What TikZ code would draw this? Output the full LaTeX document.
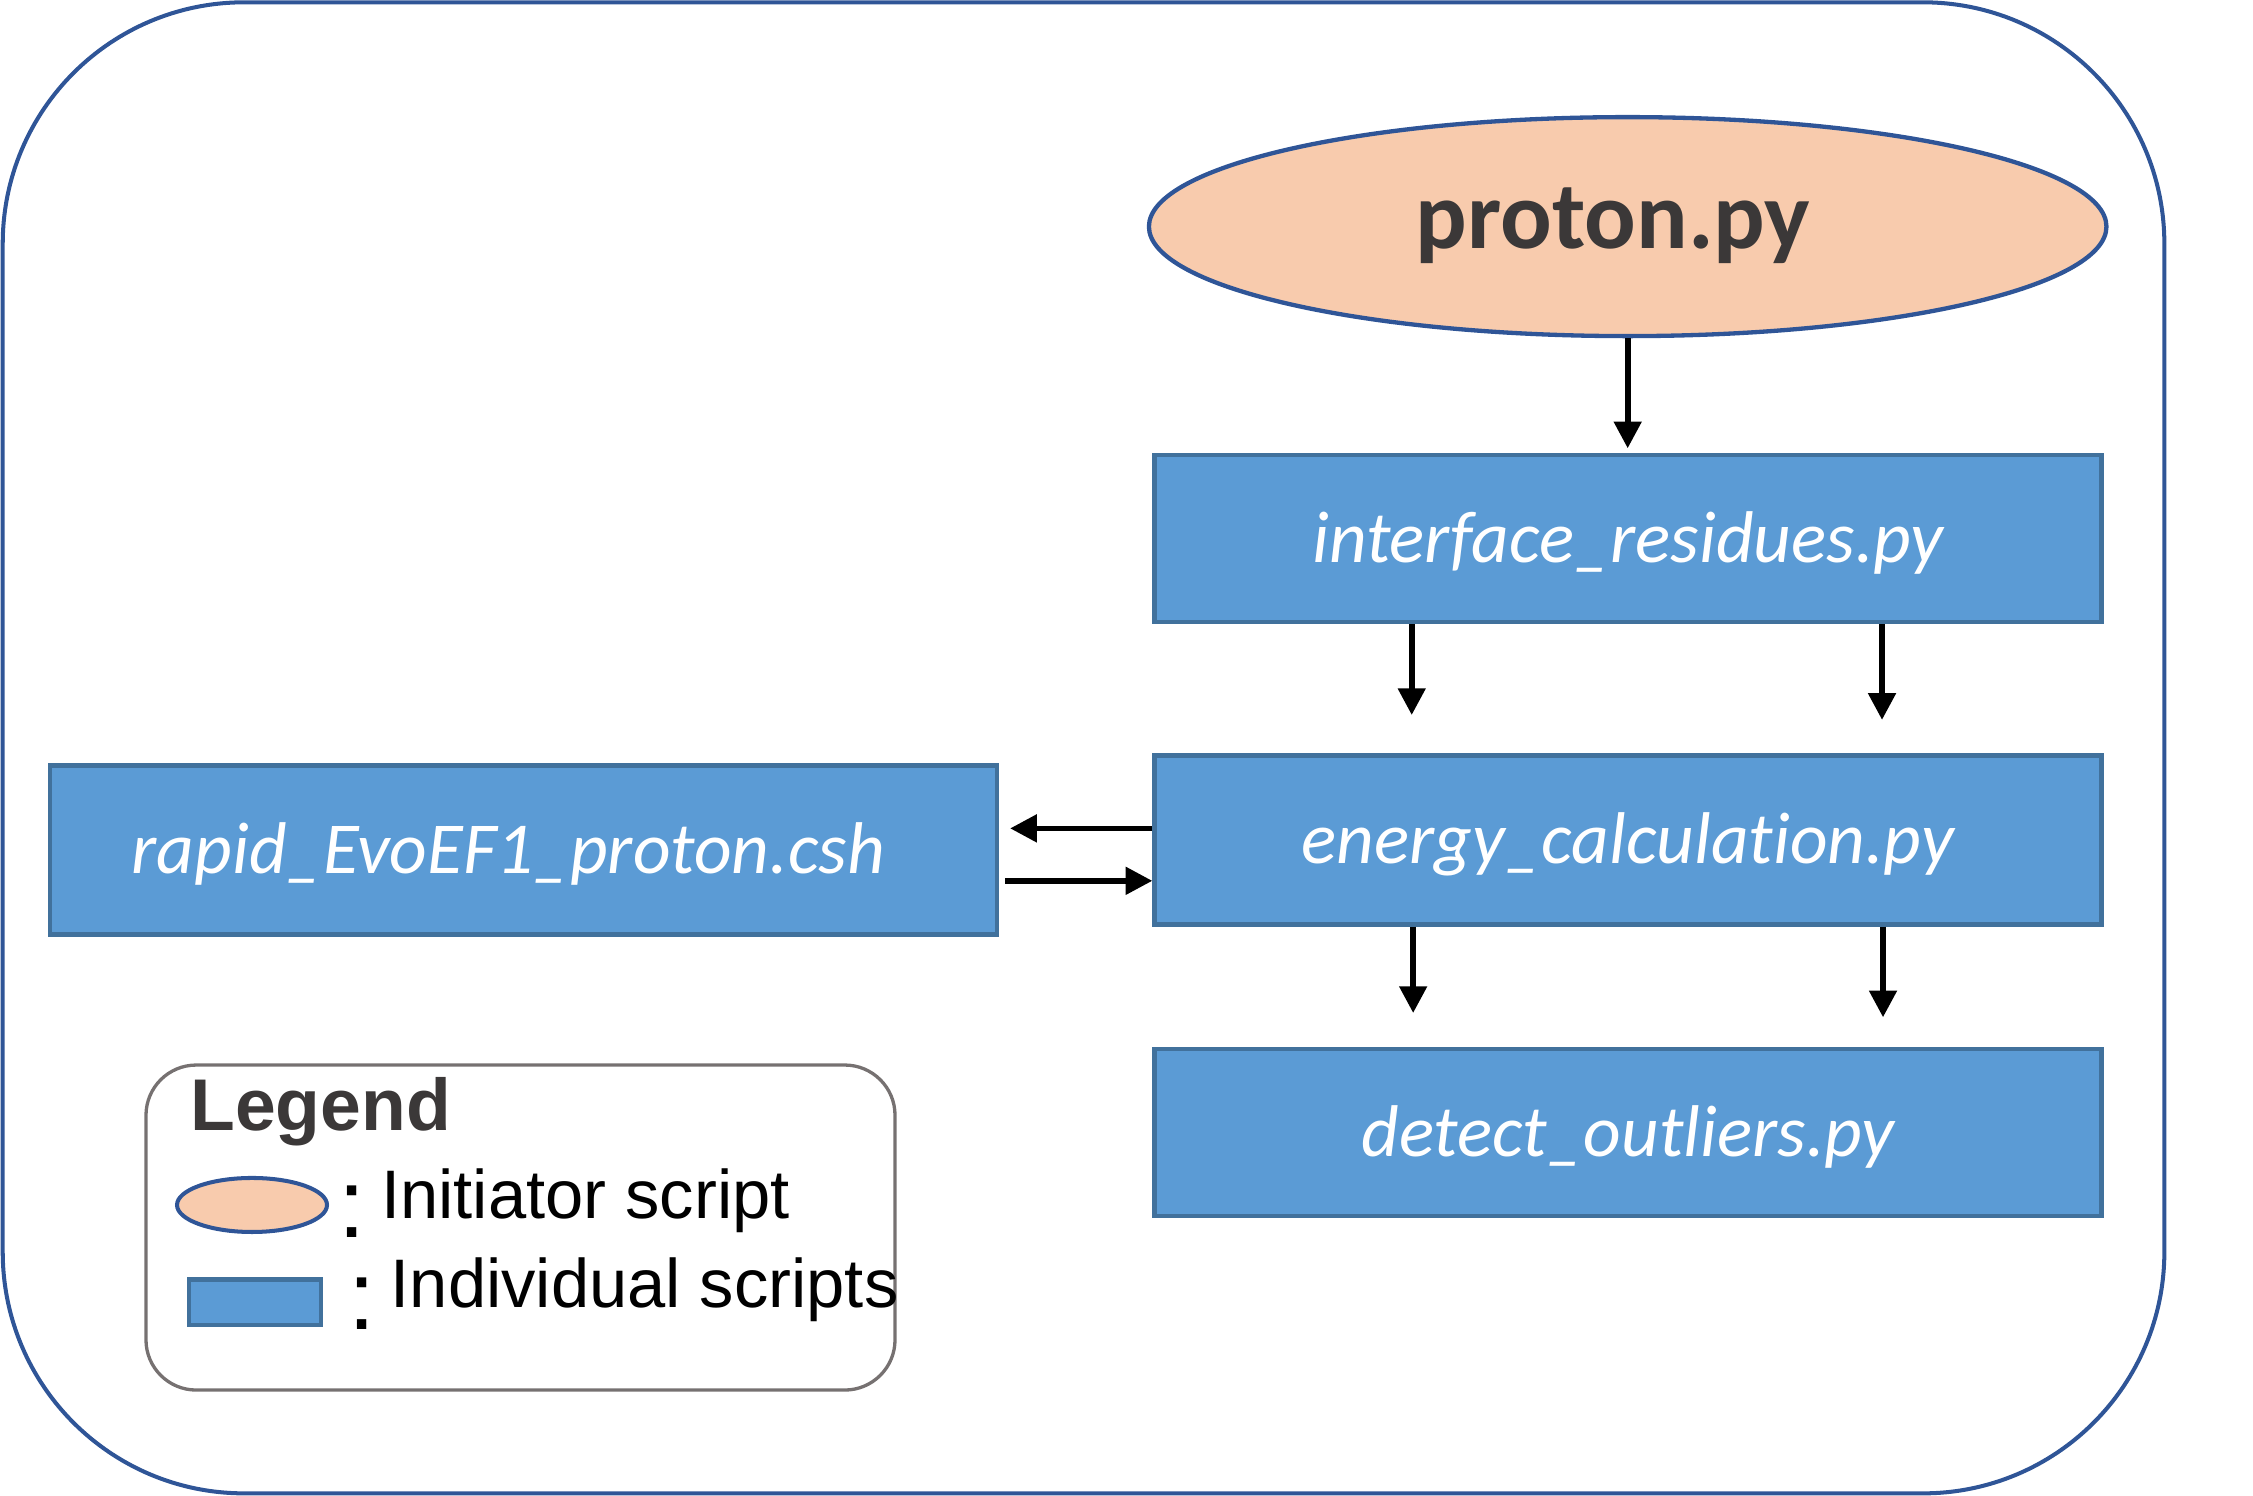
\documentclass[tikz,border=0pt]{standalone}
\usepackage{fontspec}
\setmainfont[Ligatures=NoCommon]{Carlito}
\newfontfamily\arialfont{Liberation Sans}
\usetikzlibrary{arrows.meta,shapes.geometric}
\definecolor{boxfill}{HTML}{5B9BD5}
\definecolor{boxline}{HTML}{41719C}
\definecolor{framebl}{HTML}{2F5597}
\definecolor{peach}{HTML}{F8CBAD}
\definecolor{txtgray}{HTML}{3B3838}
\definecolor{leggray}{HTML}{767171}
\tikzset{
  scriptbox/.style={draw=boxline, fill=boxfill, line width=1.5pt, inner sep=0pt,
    minimum width=329.5pt, minimum height=58.2pt, text=white,
    font=\fontsize{25.5pt}{30pt}\selectfont\itshape, text height=20.5pt, text depth=4pt},
  initbox/.style={ellipse, draw=framebl, fill=peach, line width=1.5pt, inner sep=0pt},
  flow/.style={line width=2pt, -{Triangle[length=9.3pt,width=9.3pt]}},
  legtext/.style={inner sep=0pt, anchor=base west},
  colonmark/.style={inner sep=0pt, anchor=base, font=\arialfont\fontsize{34pt}{40pt}\selectfont},
}
\begin{document}
\begin{tikzpicture}[x=0.5pt,y=-0.5pt]
\useasboundingbox (0,0) rectangle (1568,1041);
% outer frame
\node[draw=framebl, line width=1.4pt, rounded corners=84pt, minimum width=752.2pt,
      minimum height=518.85pt, inner sep=0pt] (frame) at (754.1,520.45) {};
% initiator
\node[initbox, minimum width=333.2pt, minimum height=76.2pt, text=txtgray,
      font=\fontsize{33.5pt}{40pt}\selectfont\bfseries, text height=22pt, text depth=6.9pt]
      (pr) at (1132.8,157.7) {\hspace*{-10.3pt}proton.py};
% scripts
\node[scriptbox] (ir) at (1133,374.65) {interface\_residues.py};
\node[scriptbox, minimum height=58.8pt] (ec) at (1133,584.6) {energy\_calculation.py};
\node[scriptbox] (do) at (1133,788.1) {detect\_outliers.py};
\node[scriptbox, minimum width=329.6pt, minimum height=58.85pt] (rp) at (364.4,591.55)
      {\hspace*{-10.6pt}rapid\_EvoEF1\_proton.csh};
% arrows
\coordinate (t0) at (1132.8,312);
\draw[flow] (pr.south) -- (t0);
\coordinate (t1) at (982.5,497.6);
\coordinate (t2) at (1309.8,501);
\draw[flow] (ir.south -| t1) -- (t1);
\draw[flow] (ir.south -| t2) -- (t2);
\coordinate (t3) at (983.5,705);
\coordinate (t4) at (1310.5,708);
\draw[flow] (ec.south -| t3) -- (t3);
\draw[flow] (ec.south -| t4) -- (t4);
\coordinate (t5) at (703,576.5);
\draw[flow] (ec.west |- t5) -- (t5);
\coordinate (s6) at (699.5,613);
\draw[flow] (s6) -- (ec.west |- s6);
% legend
\node[draw=leggray, line width=1.15pt, rounded corners=17.5pt, minimum width=260.65pt,
      minimum height=113.1pt, inner sep=0pt] (leg) at (362.25,854.3) {};
\node[legtext, text=txtgray, font=\arialfont\bfseries\fontsize{25.5pt}{30pt}\selectfont]
      (legt) at (132,786.5) {Legend};
\node[initbox, line width=1.4pt, minimum width=52.2pt, minimum height=18.8pt]
      (legell) at (175.4,838.6) {};
\node[draw=boxline, fill=boxfill, line width=1.5pt, inner sep=0pt, minimum width=46.1pt,
      minimum height=15.8pt] (legrect) at (177.4,906.3) {};
\node[colonmark] (c1) at (245,861) {:};
\node[colonmark] (c2) at (252,925.6) {:};
\node[legtext, font=\arialfont\fontsize{23.9pt}{28pt}\selectfont] (l1) at (265,847.8) {Initiator script};
\node[legtext, font=\arialfont\fontsize{23.9pt}{28pt}\selectfont] (l2) at (271.6,910) {Individual scripts};
\end{tikzpicture}
\end{document}
